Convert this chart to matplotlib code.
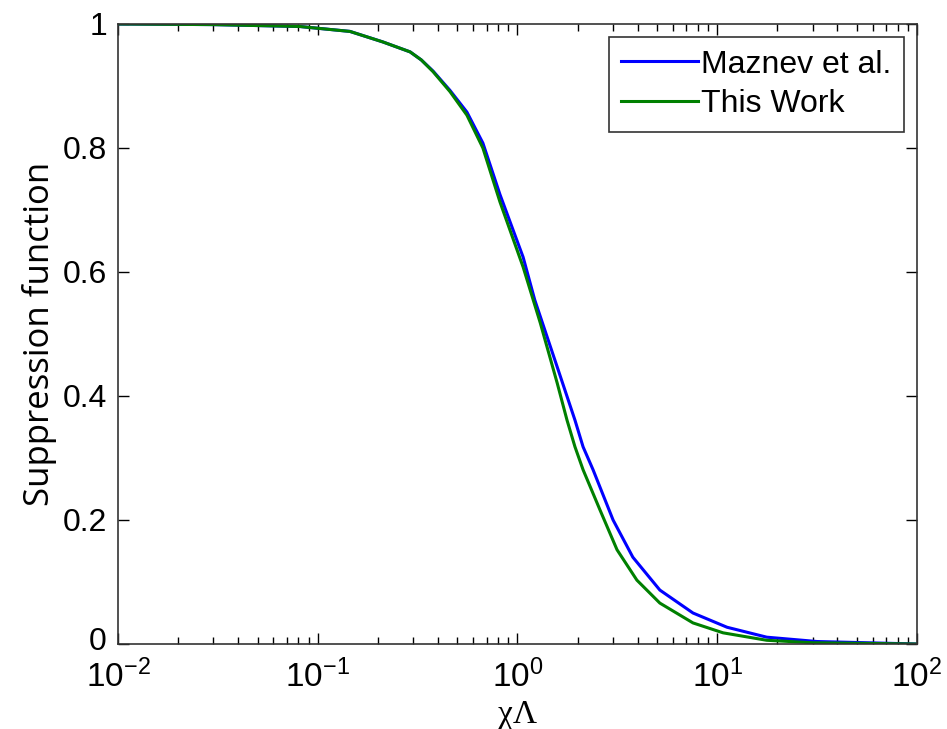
import matplotlib.pyplot as plt
import matplotlib.transforms as mtransforms
from matplotlib.ticker import LogLocator, FixedLocator

plt.rcParams['font.family'] = ['Liberation Sans', 'DejaVu Sans']
plt.rcParams['mathtext.fontset'] = 'custom'
plt.rcParams['mathtext.rm'] = 'Liberation Sans'
plt.rcParams['mathtext.default'] = 'regular'

# data
x_work = [0.01, 0.03, 0.081, 0.145, 0.212, 0.29, 0.33, 0.378, 0.459, 0.558, 0.671, 0.817,
          1.067, 1.30, 1.58, 1.77, 1.94, 2.13, 2.59, 3.15, 3.96, 5.16, 7.56, 10.7,
          17.7, 30.0, 100.0]
y_work = [1.0, 0.999, 0.996, 0.988, 0.971, 0.955, 0.942, 0.923, 0.891, 0.853, 0.80, 0.713,
          0.608, 0.518, 0.421, 0.361, 0.318, 0.281, 0.216, 0.152, 0.103, 0.066, 0.034, 0.018,
          0.006, 0.002, 0.0]

x_maz = [0.01, 0.03, 0.081, 0.145, 0.212, 0.29, 0.33, 0.378, 0.459, 0.558, 0.671, 0.817,
         1.067, 1.22, 1.58, 1.94, 2.13, 2.39, 3.01, 3.78, 5.16, 7.56, 11.2, 17.7,
         31.6, 100.0]
y_maz = [1.0, 0.999, 0.996, 0.988, 0.971, 0.955, 0.942, 0.924, 0.893, 0.858, 0.808, 0.725,
         0.624, 0.555, 0.447, 0.361, 0.318, 0.281, 0.200, 0.140, 0.087, 0.050, 0.027, 0.011,
         0.004, 0.0]

fig = plt.figure(figsize=(9.47, 7.29), dpi=100)
ax = fig.add_axes([0.1246, 0.1166, 0.8437, 0.8505])

ax.plot(x_maz, y_maz, color=(0, 0, 1), lw=2.2, label='Maznev et al.')
ax.plot(x_work, y_work, color=(0, 0.5, 0), lw=2.2, label='This Work')
ax.set_xscale('log')
ax.set_xlim(1e-2, 1e2)
ax.set_ylim(0, 1)

ax.xaxis.set_major_locator(LogLocator(base=10, numticks=10))
ax.xaxis.set_minor_locator(LogLocator(base=10, subs=range(2, 10), numticks=20))
ax.yaxis.set_major_locator(FixedLocator([0, 0.2, 0.4, 0.6, 0.8, 1.0]))
ax.set_yticklabels(['0', '0.2', '0.4', '0.6', '0.8', '1'])

ax.tick_params(which='both', direction='in', top=True, right=True, labelsize=23,
               colors='black', width=1.0)
ax.tick_params(which='major', length=8)
ax.tick_params(which='minor', length=5)
ax.tick_params(axis='y', pad=8)
ax.tick_params(axis='x', which='major', pad=11, labelsize=24)
for s in ax.spines.values():
    s.set_linewidth(1.2)
    s.set_color('#333333')

# nudge the "0" label up a little so it clears the 10^-2 label
lab0 = ax.get_yticklabels()[0]
lab0.set_transform(lab0.get_transform() + mtransforms.ScaledTranslation(0, 4 / 72, fig.dpi_scale_trans))

ax.set_ylabel('Suppression function', family=['Open Sans', 'DejaVu Sans'], fontsize=25, labelpad=4)
ax.set_xlabel('χΛ', family=['Liberation Serif', 'DejaVu Serif'], fontsize=24)
ax.xaxis.set_label_coords(0.5, -0.089)

leg = ax.legend(loc='upper right', fontsize=23, handlelength=2.4, handletextpad=0.1,
                borderaxespad=0.4, borderpad=0.4, labelspacing=0.3, fancybox=False,
                framealpha=1, edgecolor='#333333')
leg.get_frame().set_linewidth(1.2)

fig.savefig('out.png', dpi=100)
